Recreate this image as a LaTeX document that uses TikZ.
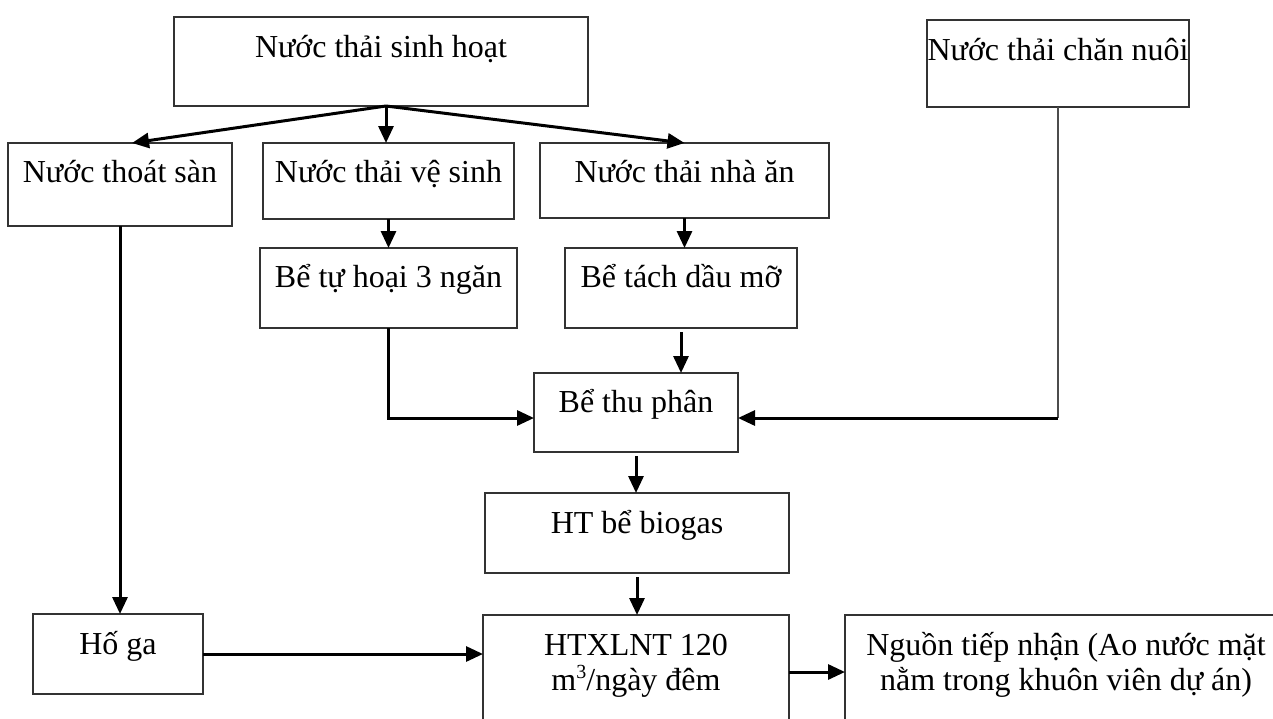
\documentclass[tikz,border=0pt]{standalone}
\usepackage{fontspec}
\setmainfont{Liberation Serif}
\usetikzlibrary{arrows.meta,calc}
\begin{document}
\begin{tikzpicture}[x=1pt,y=-1pt,
  box/.style={draw=black!80, line width=1.3pt, inner sep=0pt, outer sep=0pt, anchor=base, font=\fontsize{32}{38}\selectfont},
  txt/.style={font=\fontsize{32}{38}\selectfont, inner sep=0pt, anchor=base},
  arr/.style={line width=3pt, draw=black, -{Triangle[length=17pt,width=15pt]}},
  thinline/.style={line width=2pt, draw=black!70}]
\useasboundingbox (0,0) rectangle (1273,718);
\clip (0,0) rectangle (1273,718);
\fill[white] (0,0) rectangle (1273,718);

\node[box, minimum width=414pt, text height=40pt, text depth=49pt] (sh) at (381,57) {Nước thải sinh hoạt};
\node[box, minimum width=262pt, text height=40pt, text depth=47pt] (cn) at (1058,60) {Nước thải chăn nuôi};
\node[box, minimum width=224pt, text height=39pt, text depth=44pt] (ts) at (120,182) {Nước thoát sàn};
\node[box, minimum width=251pt, text height=39pt, text depth=37pt] (vs) at (388.5,182) {Nước thải vệ sinh};
\node[box, minimum width=289pt, text height=39pt, text depth=36pt] (na) at (684.5,182) {Nước thải nhà ăn};
\node[box, minimum width=257pt, text height=39pt, text depth=41pt] (th) at (388.5,287) {Bể tự hoại 3 ngăn};
\node[box, minimum width=232pt, text height=39pt, text depth=41pt] (td) at (681,287) {Bể tách dầu mỡ};
\node[box, minimum width=204pt, text height=39pt, text depth=40pt] (tp) at (636,412) {Bể thu phân};
\node[box, minimum width=304pt, text height=40pt, text depth=40pt] (bg) at (637,533) {HT bể biogas};
\node[box, minimum width=170pt, text height=40pt, text depth=40pt] (hg) at (118,654) {Hố ga};
\node[box, anchor=north west, minimum width=306pt, minimum height=114pt] (ht) at (483,615) {};
\node[box, anchor=north west, minimum width=445pt, minimum height=114pt] (ng) at (845,615) {};
\node[txt] (ht1) at (636,655) {HTXLNT 120};
\node[txt] (ht2) at (636,690) {m\raisebox{12pt}{\fontsize{20}{20}\selectfont 3}/ngày đêm};
\node[txt] (ng1) at (1066,655) {Nguồn tiếp nhận (Ao nước mặt};
\node[txt] (ng2) at (1066,690) {nằm trong khuôn viên dự án)};

\coordinate (fork) at (386,106);
\draw[arr] (fork) -- ($(ts.north)+(12,0)$);
\draw[arr] (fork) -- (fork |- vs.north);
\draw[arr] (fork) -- (na.north);
\draw[arr] (vs.south) -- (th.north);
\draw[arr] (na.south) -- (na.south |- td.north);
\draw[arr, shorten <=4pt] (td.south) -- (td.south |- tp.north);
\coordinate (tpin) at ($(tp.west)+(0,5.5)$);
\draw[arr] (th.south) |- (tpin);
\coordinate (cnb) at (cn.south |- tpin);
\draw[thinline] (cn.south) -- (cnb);
\draw[arr] (cnb) -- (cnb -| tp.east);
\draw[arr, shorten <=4pt] (tp.south) -- (tp.south |- bg.north);
\draw[arr, shorten <=4pt] (bg.south) -- (bg.south |- ht.north);
\draw[arr] (ts.south) -- (ts.south |- hg.north);
\draw[arr] (hg.east) -- (hg.east -| ht.west);
\draw[arr] (ht.east) -- (ng.west);
\end{tikzpicture}
\end{document}
